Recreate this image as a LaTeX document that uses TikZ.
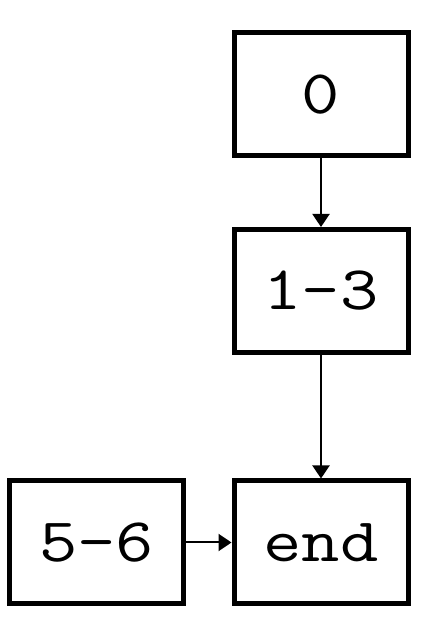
\documentclass[tikz,border=0pt]{standalone}
\usepackage{fontspec}
\newfontfamily\boxfont{Latin Modern Mono}[FakeStretch=1.2]
\usetikzlibrary{arrows.meta}
\tikzset{
  blk/.style={draw=black, line width=5pt, fill=white, minimum width=174pt, minimum height=123pt,
    inner sep=0pt, text height=38pt, text depth=0pt, font=\boxfont\fontsize{62}{62}\selectfont},
  conn/.style={line width=2pt, -{Triangle[width=17pt,length=13pt]}}
}
\begin{document}
\begin{tikzpicture}[x=1pt,y=1pt]
\useasboundingbox[fill=white] (0,0) rectangle (428,626);
\node[blk] (n0) at (321,531.5) {0};
\node[blk] (n13) at (321,335) {1-3};
\node[blk] (nend) at (321,83.5) {end};
\node[blk] (n56) at (96.5,83.5) {5-6};
\draw[conn] (n0) -- (n13);
\draw[conn] (n13) -- (nend);
\draw[conn] (n56) -- (nend);
\end{tikzpicture}
\end{document}
